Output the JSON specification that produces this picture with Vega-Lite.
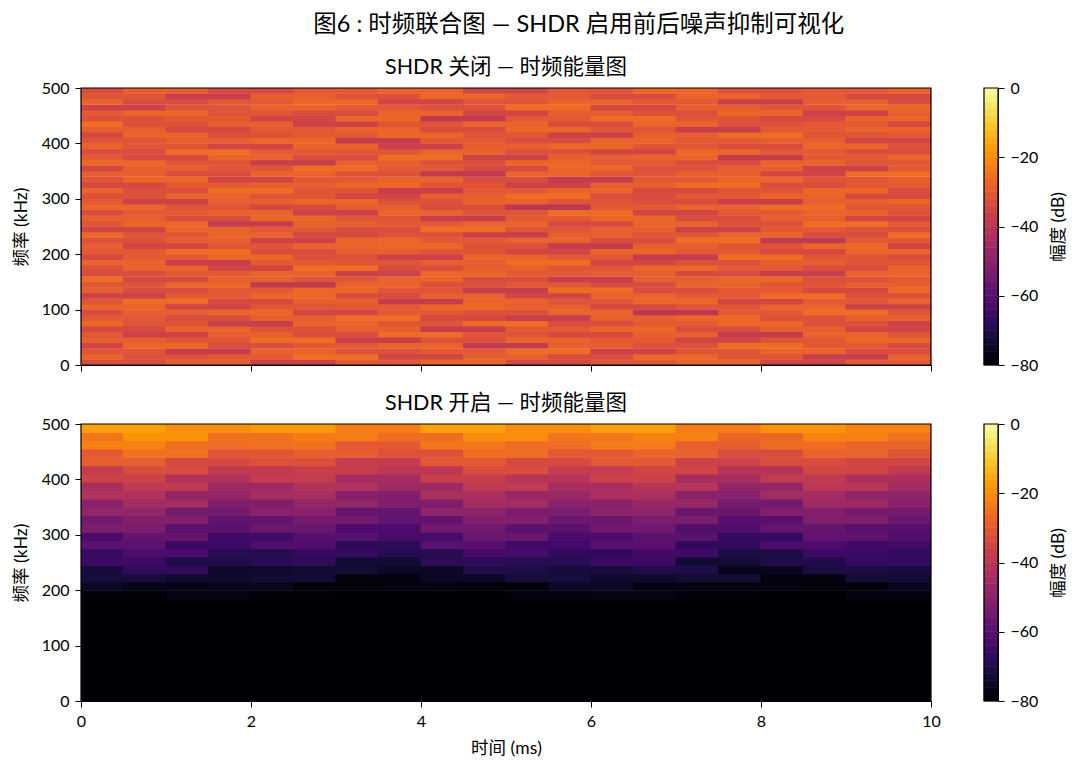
{"$schema":"https://vega.github.io/schema/vega-lite/v6.json","padding":{"left":12,"top":13,"right":0,"bottom":0},"background":"white","title":{"text":"图6 : 时频联合图 — SHDR 启用前后噪声抑制可视化","fontSize":23.5,"fontWeight":"normal","font":"Lato, Noto Sans CJK SC","color":"black","anchor":"middle","offset":20,"dx":39},"config":{"font":"Lato, Noto Sans CJK SC","view":{"stroke":null},"axis":{"labelFont":"Lato, Noto Sans CJK SC","titleFont":"Lato, Noto Sans CJK SC","labelFontSize":16,"titleFontSize":17.5,"titleFontWeight":"normal","labelColor":"black","titleColor":"black","tickColor":"black","domainColor":"black","grid":false,"tickSize":6,"labelPadding":6,"labelFlush":false,"format":"d"},"title":{"fontSize":21.5,"fontWeight":"normal","color":"black","font":"Lato, Noto Sans CJK SC","offset":2}},"datasets":{
"cb":[{"lo":-80,"hi":-78,"c":-79},{"lo":-78,"hi":-76,"c":-77},{"lo":-76,"hi":-74,"c":-75},{"lo":-74,"hi":-72,"c":-73},{"lo":-72,"hi":-70,"c":-71},{"lo":-70,"hi":-68,"c":-69},{"lo":-68,"hi":-66,"c":-67},{"lo":-66,"hi":-64,"c":-65},{"lo":-64,"hi":-62,"c":-63},{"lo":-62,"hi":-60,"c":-61},{"lo":-60,"hi":-58,"c":-59},{"lo":-58,"hi":-56,"c":-57},{"lo":-56,"hi":-54,"c":-55},{"lo":-54,"hi":-52,"c":-53},{"lo":-52,"hi":-50,"c":-51},{"lo":-50,"hi":-48,"c":-49},{"lo":-48,"hi":-46,"c":-47},{"lo":-46,"hi":-44,"c":-45},{"lo":-44,"hi":-42,"c":-43},{"lo":-42,"hi":-40,"c":-41},{"lo":-40,"hi":-38,"c":-39},{"lo":-38,"hi":-36,"c":-37},{"lo":-36,"hi":-34,"c":-35},{"lo":-34,"hi":-32,"c":-33},{"lo":-32,"hi":-30,"c":-31},{"lo":-30,"hi":-28,"c":-29},{"lo":-28,"hi":-26,"c":-27},{"lo":-26,"hi":-24,"c":-25},{"lo":-24,"hi":-22,"c":-23},{"lo":-22,"hi":-20,"c":-21},{"lo":-20,"hi":-18,"c":-19},{"lo":-18,"hi":-16,"c":-17},{"lo":-16,"hi":-14,"c":-15},{"lo":-14,"hi":-12,"c":-13},{"lo":-12,"hi":-10,"c":-11},{"lo":-10,"hi":-8,"c":-9},{"lo":-8,"hi":-6,"c":-7},{"lo":-6,"hi":-4,"c":-5},{"lo":-4,"hi":-2,"c":-3},{"lo":-2,"hi":0,"c":-1}],
"cbf":[{"lo":-80,"hi":0}],
"frame":[{"t":0,"t2":10,"f":0,"f2":500}],
"base":[{"t":0,"t2":10,"f":0,"f2":190,"v":-80}],
"off":[
{"t":0.5,"f":5,"v":-33},{"t":1.5,"f":5,"v":-29},{"t":2.5,"f":5,"v":-36},{"t":3.5,"f":5,"v":-30},{"t":4.5,"f":5,"v":-27},{"t":5.5,"f":5,"v":-34},{"t":6.5,"f":5,"v":-31},{"t":7.5,"f":5,"v":-28},{"t":8.5,"f":5,"v":-35},{"t":9.5,"f":5,"v":-30},
{"t":0,"f":15,"v":-28},{"t":1,"f":15,"v":-32},{"t":2,"f":15,"v":-30},{"t":3,"f":15,"v":-26},{"t":4,"f":15,"v":-35},{"t":5,"f":15,"v":-29},{"t":6,"f":15,"v":-33},{"t":7,"f":15,"v":-27},{"t":8,"f":15,"v":-31},{"t":9,"f":15,"v":-37},{"t":10,"f":15,"v":-29},
{"t":0.5,"f":25,"v":-31},{"t":1.5,"f":25,"v":-38},{"t":2.5,"f":25,"v":-28},{"t":3.5,"f":25,"v":-32},{"t":4.5,"f":25,"v":-30},{"t":5.5,"f":25,"v":-26},{"t":6.5,"f":25,"v":-36},{"t":7.5,"f":25,"v":-31},{"t":8.5,"f":25,"v":-28},{"t":9.5,"f":25,"v":-33},
{"t":0,"f":35,"v":-35},{"t":1,"f":35,"v":-27},{"t":2,"f":35,"v":-33},{"t":3,"f":35,"v":-30},{"t":4,"f":35,"v":-28},{"t":5,"f":35,"v":-39},{"t":6,"f":35,"v":-29},{"t":7,"f":35,"v":-32},{"t":8,"f":35,"v":-26},{"t":9,"f":35,"v":-30},{"t":10,"f":35,"v":-34},
{"t":0.5,"f":45,"v":-29},{"t":1.5,"f":45,"v":-31},{"t":2.5,"f":45,"v":-26},{"t":3.5,"f":45,"v":-37},{"t":4.5,"f":45,"v":-32},{"t":5.5,"f":45,"v":-28},{"t":6.5,"f":45,"v":-30},{"t":7.5,"f":45,"v":-35},{"t":8.5,"f":45,"v":-31},{"t":9.5,"f":45,"v":-27},
{"t":0,"f":55,"v":-30},{"t":1,"f":55,"v":-36},{"t":2,"f":55,"v":-29},{"t":3,"f":55,"v":-33},{"t":4,"f":55,"v":-26},{"t":5,"f":55,"v":-31},{"t":6,"f":55,"v":-34},{"t":7,"f":55,"v":-29},{"t":8,"f":55,"v":-38},{"t":9,"f":55,"v":-28},{"t":10,"f":55,"v":-31},
{"t":0.5,"f":65,"v":-34},{"t":1.5,"f":65,"v":-28},{"t":2.5,"f":65,"v":-32},{"t":3.5,"f":65,"v":-29},{"t":4.5,"f":65,"v":-38},{"t":5.5,"f":65,"v":-30},{"t":6.5,"f":65,"v":-27},{"t":7.5,"f":65,"v":-33},{"t":8.5,"f":65,"v":-29},{"t":9.5,"f":65,"v":-35},
{"t":0,"f":75,"v":-27},{"t":1,"f":75,"v":-31},{"t":2,"f":75,"v":-37},{"t":3,"f":75,"v":-28},{"t":4,"f":75,"v":-31},{"t":5,"f":75,"v":-26},{"t":6,"f":75,"v":-33},{"t":7,"f":75,"v":-30},{"t":8,"f":75,"v":-27},{"t":9,"f":75,"v":-32},{"t":10,"f":75,"v":-36},
{"t":0.5,"f":85,"v":-30},{"t":1.5,"f":85,"v":-33},{"t":2.5,"f":85,"v":-29},{"t":3.5,"f":85,"v":-26},{"t":4.5,"f":85,"v":-34},{"t":5.5,"f":85,"v":-37},{"t":6.5,"f":85,"v":-29},{"t":7.5,"f":85,"v":-27},{"t":8.5,"f":85,"v":-32},{"t":9.5,"f":85,"v":-29},
{"t":0,"f":95,"v":-33},{"t":1,"f":95,"v":-29},{"t":2,"f":95,"v":-27},{"t":3,"f":95,"v":-35},{"t":4,"f":95,"v":-30},{"t":5,"f":95,"v":-32},{"t":6,"f":95,"v":-28},{"t":7,"f":95,"v":-40},{"t":8,"f":95,"v":-30},{"t":9,"f":95,"v":-26},{"t":10,"f":95,"v":-31},
{"t":0.5,"f":105,"v":-28},{"t":1.5,"f":105,"v":-35},{"t":2.5,"f":105,"v":-31},{"t":3.5,"f":105,"v":-30},{"t":4.5,"f":105,"v":-27},{"t":5.5,"f":105,"v":-29},{"t":6.5,"f":105,"v":-34},{"t":7.5,"f":105,"v":-31},{"t":8.5,"f":105,"v":-28},{"t":9.5,"f":105,"v":-36},
{"t":0,"f":115,"v":-31},{"t":1,"f":115,"v":-26},{"t":2,"f":115,"v":-34},{"t":3,"f":115,"v":-29},{"t":4,"f":115,"v":-38},{"t":5,"f":115,"v":-28},{"t":6,"f":115,"v":-31},{"t":7,"f":115,"v":-27},{"t":8,"f":115,"v":-35},{"t":9,"f":115,"v":-30},{"t":10,"f":115,"v":-28},
{"t":0.5,"f":125,"v":-36},{"t":1.5,"f":125,"v":-30},{"t":2.5,"f":125,"v":-27},{"t":3.5,"f":125,"v":-33},{"t":4.5,"f":125,"v":-29},{"t":5.5,"f":125,"v":-35},{"t":6.5,"f":125,"v":-28},{"t":7.5,"f":125,"v":-30},{"t":8.5,"f":125,"v":-26},{"t":9.5,"f":125,"v":-32},
{"t":0,"f":135,"v":-29},{"t":1,"f":135,"v":-33},{"t":2,"f":135,"v":-30},{"t":3,"f":135,"v":-27},{"t":4,"f":135,"v":-31},{"t":5,"f":135,"v":-37},{"t":6,"f":135,"v":-26},{"t":7,"f":135,"v":-33},{"t":8,"f":135,"v":-30},{"t":9,"f":135,"v":-34},{"t":10,"f":135,"v":-27},
{"t":0.5,"f":145,"v":-31},{"t":1.5,"f":145,"v":-27},{"t":2.5,"f":145,"v":-39},{"t":3.5,"f":145,"v":-28},{"t":4.5,"f":145,"v":-32},{"t":5.5,"f":145,"v":-30},{"t":6.5,"f":145,"v":-33},{"t":7.5,"f":145,"v":-28},{"t":8.5,"f":145,"v":-31},{"t":9.5,"f":145,"v":-29},
{"t":0,"f":155,"v":-26},{"t":1,"f":155,"v":-34},{"t":2,"f":155,"v":-29},{"t":3,"f":155,"v":-31},{"t":4,"f":155,"v":-28},{"t":5,"f":155,"v":-33},{"t":6,"f":155,"v":-37},{"t":7,"f":155,"v":-29},{"t":8,"f":155,"v":-27},{"t":9,"f":155,"v":-32},{"t":10,"f":155,"v":-30},
{"t":0.5,"f":165,"v":-33},{"t":1.5,"f":165,"v":-30},{"t":2.5,"f":165,"v":-28},{"t":3.5,"f":165,"v":-36},{"t":4.5,"f":165,"v":-27},{"t":5.5,"f":165,"v":-30},{"t":6.5,"f":165,"v":-29},{"t":7.5,"f":165,"v":-34},{"t":8.5,"f":165,"v":-37},{"t":9.5,"f":165,"v":-28},
{"t":0,"f":175,"v":-32},{"t":1,"f":175,"v":-28},{"t":2,"f":175,"v":-35},{"t":3,"f":175,"v":-26},{"t":4,"f":175,"v":-33},{"t":5,"f":175,"v":-29},{"t":6,"f":175,"v":-31},{"t":7,"f":175,"v":-27},{"t":8,"f":175,"v":-30},{"t":9,"f":175,"v":-33},{"t":10,"f":175,"v":-28},
{"t":0.5,"f":185,"v":-28},{"t":1.5,"f":185,"v":-37},{"t":2.5,"f":185,"v":-30},{"t":3.5,"f":185,"v":-31},{"t":4.5,"f":185,"v":-29},{"t":5.5,"f":185,"v":-26},{"t":6.5,"f":185,"v":-35},{"t":7.5,"f":185,"v":-32},{"t":8.5,"f":185,"v":-29},{"t":9.5,"f":185,"v":-31},
{"t":0,"f":195,"v":-34},{"t":1,"f":195,"v":-30},{"t":2,"f":195,"v":-27},{"t":3,"f":195,"v":-32},{"t":4,"f":195,"v":-36},{"t":5,"f":195,"v":-28},{"t":6,"f":195,"v":-30},{"t":7,"f":195,"v":-38},{"t":8,"f":195,"v":-26},{"t":9,"f":195,"v":-31},{"t":10,"f":195,"v":-33},
{"t":0.5,"f":205,"v":-30},{"t":1.5,"f":205,"v":-26},{"t":2.5,"f":205,"v":-33},{"t":3.5,"f":205,"v":-29},{"t":4.5,"f":205,"v":-31},{"t":5.5,"f":205,"v":-35},{"t":6.5,"f":205,"v":-27},{"t":7.5,"f":205,"v":-30},{"t":8.5,"f":205,"v":-34},{"t":9.5,"f":205,"v":-28},
{"t":0,"f":215,"v":-29},{"t":1,"f":215,"v":-35},{"t":2,"f":215,"v":-31},{"t":3,"f":215,"v":-28},{"t":4,"f":215,"v":-27},{"t":5,"f":215,"v":-32},{"t":6,"f":215,"v":-38},{"t":7,"f":215,"v":-29},{"t":8,"f":215,"v":-31},{"t":9,"f":215,"v":-27},{"t":10,"f":215,"v":-35},
{"t":0.5,"f":225,"v":-32},{"t":1.5,"f":225,"v":-29},{"t":2.5,"f":225,"v":-36},{"t":3.5,"f":225,"v":-27},{"t":4.5,"f":225,"v":-30},{"t":5.5,"f":225,"v":-28},{"t":6.5,"f":225,"v":-33},{"t":7.5,"f":225,"v":-26},{"t":8.5,"f":225,"v":-39},{"t":9.5,"f":225,"v":-30},
{"t":0,"f":235,"v":-27},{"t":1,"f":235,"v":-31},{"t":2,"f":235,"v":-28},{"t":3,"f":235,"v":-34},{"t":4,"f":235,"v":-32},{"t":5,"f":235,"v":-37},{"t":6,"f":235,"v":-29},{"t":7,"f":235,"v":-31},{"t":8,"f":235,"v":-28},{"t":9,"f":235,"v":-33},{"t":10,"f":235,"v":-26},
{"t":0.5,"f":245,"v":-35},{"t":1.5,"f":245,"v":-28},{"t":2.5,"f":245,"v":-30},{"t":3.5,"f":245,"v":-33},{"t":4.5,"f":245,"v":-26},{"t":5.5,"f":245,"v":-31},{"t":6.5,"f":245,"v":-29},{"t":7.5,"f":245,"v":-36},{"t":8.5,"f":245,"v":-30},{"t":9.5,"f":245,"v":-32},
{"t":0,"f":255,"v":-31},{"t":1,"f":255,"v":-27},{"t":2,"f":255,"v":-38},{"t":3,"f":255,"v":-29},{"t":4,"f":255,"v":-30},{"t":5,"f":255,"v":-28},{"t":6,"f":255,"v":-34},{"t":7,"f":255,"v":-28},{"t":8,"f":255,"v":-32},{"t":9,"f":255,"v":-26},{"t":10,"f":255,"v":-30},
{"t":0.5,"f":265,"v":-29},{"t":1.5,"f":265,"v":-33},{"t":2.5,"f":265,"v":-27},{"t":3.5,"f":265,"v":-31},{"t":4.5,"f":265,"v":-37},{"t":5.5,"f":265,"v":-30},{"t":6.5,"f":265,"v":-27},{"t":7.5,"f":265,"v":-33},{"t":8.5,"f":265,"v":-29},{"t":9.5,"f":265,"v":-35},
{"t":0,"f":275,"v":-33},{"t":1,"f":275,"v":-30},{"t":2,"f":275,"v":-28},{"t":3,"f":275,"v":-36},{"t":4,"f":275,"v":-28},{"t":5,"f":275,"v":-31},{"t":6,"f":275,"v":-26},{"t":7,"f":275,"v":-35},{"t":8,"f":275,"v":-30},{"t":9,"f":275,"v":-28},{"t":10,"f":275,"v":-32},
{"t":0.5,"f":285,"v":-27},{"t":1.5,"f":285,"v":-31},{"t":2.5,"f":285,"v":-34},{"t":3.5,"f":285,"v":-29},{"t":4.5,"f":285,"v":-33},{"t":5.5,"f":285,"v":-40},{"t":6.5,"f":285,"v":-30},{"t":7.5,"f":285,"v":-28},{"t":8.5,"f":285,"v":-26},{"t":9.5,"f":285,"v":-31},
{"t":0,"f":295,"v":-30},{"t":1,"f":295,"v":-36},{"t":2,"f":295,"v":-29},{"t":3,"f":295,"v":-27},{"t":4,"f":295,"v":-32},{"t":5,"f":295,"v":-28},{"t":6,"f":295,"v":-31},{"t":7,"f":295,"v":-33},{"t":8,"f":295,"v":-37},{"t":9,"f":295,"v":-29},{"t":10,"f":295,"v":-27},
{"t":0.5,"f":305,"v":-32},{"t":1.5,"f":305,"v":-28},{"t":2.5,"f":305,"v":-31},{"t":3.5,"f":305,"v":-35},{"t":4.5,"f":305,"v":-29},{"t":5.5,"f":305,"v":-26},{"t":6.5,"f":305,"v":-33},{"t":7.5,"f":305,"v":-30},{"t":8.5,"f":305,"v":-28},{"t":9.5,"f":305,"v":-34},
{"t":0,"f":315,"v":-28},{"t":1,"f":315,"v":-32},{"t":2,"f":315,"v":-26},{"t":3,"f":315,"v":-31},{"t":4,"f":315,"v":-37},{"t":5,"f":315,"v":-30},{"t":6,"f":315,"v":-28},{"t":7,"f":315,"v":-34},{"t":8,"f":315,"v":-31},{"t":9,"f":315,"v":-27},{"t":10,"f":315,"v":-33},
{"t":0.5,"f":325,"v":-34},{"t":1.5,"f":325,"v":-30},{"t":2.5,"f":325,"v":-29},{"t":3.5,"f":325,"v":-27},{"t":4.5,"f":325,"v":-31},{"t":5.5,"f":325,"v":-36},{"t":6.5,"f":325,"v":-29},{"t":7.5,"f":325,"v":-26},{"t":8.5,"f":325,"v":-33},{"t":9.5,"f":325,"v":-30},
{"t":0,"f":335,"v":-31},{"t":1,"f":335,"v":-27},{"t":2,"f":335,"v":-35},{"t":3,"f":335,"v":-30},{"t":4,"f":335,"v":-28},{"t":5,"f":335,"v":-33},{"t":6,"f":335,"v":-38},{"t":7,"f":335,"v":-30},{"t":8,"f":335,"v":-27},{"t":9,"f":335,"v":-31},{"t":10,"f":335,"v":-29},
{"t":0.5,"f":345,"v":-29},{"t":1.5,"f":345,"v":-33},{"t":2.5,"f":345,"v":-28},{"t":3.5,"f":345,"v":-32},{"t":4.5,"f":345,"v":-39},{"t":5.5,"f":345,"v":-28},{"t":6.5,"f":345,"v":-31},{"t":7.5,"f":345,"v":-29},{"t":8.5,"f":345,"v":-35},{"t":9.5,"f":345,"v":-26},
{"t":0,"f":355,"v":-35},{"t":1,"f":355,"v":-29},{"t":2,"f":355,"v":-31},{"t":3,"f":355,"v":-26},{"t":4,"f":355,"v":-30},{"t":5,"f":355,"v":-34},{"t":6,"f":355,"v":-27},{"t":7,"f":355,"v":-32},{"t":8,"f":355,"v":-29},{"t":9,"f":355,"v":-36},{"t":10,"f":355,"v":-30},
{"t":0.5,"f":365,"v":-27},{"t":1.5,"f":365,"v":-31},{"t":2.5,"f":365,"v":-37},{"t":3.5,"f":365,"v":-29},{"t":4.5,"f":365,"v":-32},{"t":5.5,"f":365,"v":-27},{"t":6.5,"f":365,"v":-30},{"t":7.5,"f":365,"v":-33},{"t":8.5,"f":365,"v":-28},{"t":9.5,"f":365,"v":-31},
{"t":0,"f":375,"v":-30},{"t":1,"f":375,"v":-34},{"t":2,"f":375,"v":-28},{"t":3,"f":375,"v":-33},{"t":4,"f":375,"v":-26},{"t":5,"f":375,"v":-36},{"t":6,"f":375,"v":-29},{"t":7,"f":375,"v":-28},{"t":8,"f":375,"v":-38},{"t":9,"f":375,"v":-30},{"t":10,"f":375,"v":-27},
{"t":0.5,"f":385,"v":-33},{"t":1.5,"f":385,"v":-26},{"t":2.5,"f":385,"v":-30},{"t":3.5,"f":385,"v":-31},{"t":4.5,"f":385,"v":-28},{"t":5.5,"f":385,"v":-32},{"t":6.5,"f":385,"v":-35},{"t":7.5,"f":385,"v":-27},{"t":8.5,"f":385,"v":-30},{"t":9.5,"f":385,"v":-33},
{"t":0,"f":395,"v":-28},{"t":1,"f":395,"v":-31},{"t":2,"f":395,"v":-35},{"t":3,"f":395,"v":-28},{"t":4,"f":395,"v":-36},{"t":5,"f":395,"v":-29},{"t":6,"f":395,"v":-27},{"t":7,"f":395,"v":-31},{"t":8,"f":395,"v":-33},{"t":9,"f":395,"v":-27},{"t":10,"f":395,"v":-32},
{"t":0.5,"f":405,"v":-31},{"t":1.5,"f":405,"v":-29},{"t":2.5,"f":405,"v":-27},{"t":3.5,"f":405,"v":-38},{"t":4.5,"f":405,"v":-30},{"t":5.5,"f":405,"v":-33},{"t":6.5,"f":405,"v":-28},{"t":7.5,"f":405,"v":-30},{"t":8.5,"f":405,"v":-29},{"t":9.5,"f":405,"v":-35},
{"t":0,"f":415,"v":-34},{"t":1,"f":415,"v":-28},{"t":2,"f":415,"v":-32},{"t":3,"f":415,"v":-30},{"t":4,"f":415,"v":-27},{"t":5,"f":415,"v":-31},{"t":6,"f":415,"v":-36},{"t":7,"f":415,"v":-29},{"t":8,"f":415,"v":-26},{"t":9,"f":415,"v":-31},{"t":10,"f":415,"v":-30},
{"t":0.5,"f":425,"v":-29},{"t":1.5,"f":425,"v":-34},{"t":2.5,"f":425,"v":-30},{"t":3.5,"f":425,"v":-28},{"t":4.5,"f":425,"v":-33},{"t":5.5,"f":425,"v":-27},{"t":6.5,"f":425,"v":-31},{"t":7.5,"f":425,"v":-37},{"t":8.5,"f":425,"v":-30},{"t":9.5,"f":425,"v":-28},
{"t":0,"f":435,"v":-26},{"t":1,"f":435,"v":-32},{"t":2,"f":435,"v":-29},{"t":3,"f":435,"v":-36},{"t":4,"f":435,"v":-31},{"t":5,"f":435,"v":-28},{"t":6,"f":435,"v":-33},{"t":7,"f":435,"v":-28},{"t":8,"f":435,"v":-32},{"t":9,"f":435,"v":-30},{"t":10,"f":435,"v":-34},
{"t":0.5,"f":445,"v":-32},{"t":1.5,"f":445,"v":-30},{"t":2.5,"f":445,"v":-35},{"t":3.5,"f":445,"v":-27},{"t":4.5,"f":445,"v":-39},{"t":5.5,"f":445,"v":-30},{"t":6.5,"f":445,"v":-26},{"t":7.5,"f":445,"v":-31},{"t":8.5,"f":445,"v":-34},{"t":9.5,"f":445,"v":-28},
{"t":0,"f":455,"v":-30},{"t":1,"f":455,"v":-27},{"t":2,"f":455,"v":-31},{"t":3,"f":455,"v":-33},{"t":4,"f":455,"v":-28},{"t":5,"f":455,"v":-35},{"t":6,"f":455,"v":-29},{"t":7,"f":455,"v":-32},{"t":8,"f":455,"v":-27},{"t":9,"f":455,"v":-36},{"t":10,"f":455,"v":-29},
{"t":0.5,"f":465,"v":-36},{"t":1.5,"f":465,"v":-31},{"t":2.5,"f":465,"v":-28},{"t":3.5,"f":465,"v":-30},{"t":4.5,"f":465,"v":-32},{"t":5.5,"f":465,"v":-26},{"t":6.5,"f":465,"v":-34},{"t":7.5,"f":465,"v":-29},{"t":8.5,"f":465,"v":-31},{"t":9.5,"f":465,"v":-27},
{"t":0,"f":475,"v":-28},{"t":1,"f":475,"v":-33},{"t":2,"f":475,"v":-30},{"t":3,"f":475,"v":-27},{"t":4,"f":475,"v":-35},{"t":5,"f":475,"v":-31},{"t":6,"f":475,"v":-28},{"t":7,"f":475,"v":-30},{"t":8,"f":475,"v":-37},{"t":9,"f":475,"v":-29},{"t":10,"f":475,"v":-33},
{"t":0.5,"f":485,"v":-31},{"t":1.5,"f":485,"v":-37},{"t":2.5,"f":485,"v":-29},{"t":3.5,"f":485,"v":-32},{"t":4.5,"f":485,"v":-27},{"t":5.5,"f":485,"v":-30},{"t":6.5,"f":485,"v":-33},{"t":7.5,"f":485,"v":-28},{"t":8.5,"f":485,"v":-30},{"t":9.5,"f":485,"v":-34},
{"t":0,"f":495,"v":-33},{"t":1,"f":495,"v":-29},{"t":2,"f":495,"v":-34},{"t":3,"f":495,"v":-30},{"t":4,"f":495,"v":-28},{"t":5,"f":495,"v":-35},{"t":6,"f":495,"v":-31},{"t":7,"f":495,"v":-27},{"t":8,"f":495,"v":-32},{"t":9,"f":495,"v":-30},{"t":10,"f":495,"v":-28}],
"on":[
{"t":0.5,"f":192,"v":-79},{"t":1.5,"f":192,"v":-77},{"t":2.5,"f":192,"v":-79},{"t":3.5,"f":192,"v":-80},{"t":4.5,"f":192,"v":-80},{"t":5.5,"f":192,"v":-78},{"t":6.5,"f":192,"v":-77},{"t":7.5,"f":192,"v":-79},{"t":8.5,"f":192,"v":-80},{"t":9.5,"f":192,"v":-78},
{"t":0,"f":207,"v":-75},{"t":1,"f":207,"v":-77},{"t":2,"f":207,"v":-76},{"t":3,"f":207,"v":-79},{"t":4,"f":207,"v":-78},{"t":5,"f":207,"v":-79},{"t":6,"f":207,"v":-75},{"t":7,"f":207,"v":-78},{"t":8,"f":207,"v":-78},{"t":9,"f":207,"v":-79},{"t":10,"f":207,"v":-76},
{"t":0.5,"f":222,"v":-72},{"t":1.5,"f":222,"v":-74},{"t":2.5,"f":222,"v":-73},{"t":3.5,"f":222,"v":-78},{"t":4.5,"f":222,"v":-75},{"t":5.5,"f":222,"v":-72},{"t":6.5,"f":222,"v":-74},{"t":7.5,"f":222,"v":-73},{"t":8.5,"f":222,"v":-78},{"t":9.5,"f":222,"v":-73},
{"t":0,"f":237,"v":-72},{"t":1,"f":237,"v":-67},{"t":2,"f":237,"v":-74},{"t":3,"f":237,"v":-73},{"t":4,"f":237,"v":-75},{"t":5,"f":237,"v":-70},{"t":6,"f":237,"v":-72},{"t":7,"f":237,"v":-70},{"t":8,"f":237,"v":-76},{"t":9,"f":237,"v":-71},{"t":10,"f":237,"v":-72},
{"t":0.5,"f":252,"v":-65},{"t":1.5,"f":252,"v":-70},{"t":2.5,"f":252,"v":-68},{"t":3.5,"f":252,"v":-73},{"t":4.5,"f":252,"v":-68},{"t":5.5,"f":252,"v":-69},{"t":6.5,"f":252,"v":-65},{"t":7.5,"f":252,"v":-73},{"t":8.5,"f":252,"v":-70},{"t":9.5,"f":252,"v":-66},
{"t":0,"f":267,"v":-66},{"t":1,"f":267,"v":-62},{"t":2,"f":267,"v":-69},{"t":3,"f":267,"v":-66},{"t":4,"f":267,"v":-69},{"t":5,"f":267,"v":-63},{"t":6,"f":267,"v":-67},{"t":7,"f":267,"v":-64},{"t":8,"f":267,"v":-71},{"t":9,"f":267,"v":-65},{"t":10,"f":267,"v":-67},
{"t":0.5,"f":282,"v":-59},{"t":1.5,"f":282,"v":-65},{"t":2.5,"f":282,"v":-61},{"t":3.5,"f":282,"v":-68},{"t":4.5,"f":282,"v":-60},{"t":5.5,"f":282,"v":-64},{"t":6.5,"f":282,"v":-60},{"t":7.5,"f":282,"v":-67},{"t":8.5,"f":282,"v":-62},{"t":9.5,"f":282,"v":-64},
{"t":0,"f":297,"v":-62},{"t":1,"f":297,"v":-57},{"t":2,"f":297,"v":-64},{"t":3,"f":297,"v":-60},{"t":4,"f":297,"v":-63},{"t":5,"f":297,"v":-56},{"t":6,"f":297,"v":-62},{"t":7,"f":297,"v":-59},{"t":8,"f":297,"v":-66},{"t":9,"f":297,"v":-58},{"t":10,"f":297,"v":-61},
{"t":0.5,"f":312,"v":-53},{"t":1.5,"f":312,"v":-59},{"t":2.5,"f":312,"v":-56},{"t":3.5,"f":312,"v":-62},{"t":4.5,"f":312,"v":-55},{"t":5.5,"f":312,"v":-59},{"t":6.5,"f":312,"v":-55},{"t":7.5,"f":312,"v":-61},{"t":8.5,"f":312,"v":-57},{"t":9.5,"f":312,"v":-60},
{"t":0,"f":327,"v":-55},{"t":1,"f":327,"v":-51},{"t":2,"f":327,"v":-58},{"t":3,"f":327,"v":-54},{"t":4,"f":327,"v":-58},{"t":5,"f":327,"v":-51},{"t":6,"f":327,"v":-56},{"t":7,"f":327,"v":-53},{"t":8,"f":327,"v":-60},{"t":9,"f":327,"v":-52},{"t":10,"f":327,"v":-56},
{"t":0.5,"f":342,"v":-48},{"t":1.5,"f":342,"v":-54},{"t":2.5,"f":342,"v":-50},{"t":3.5,"f":342,"v":-57},{"t":4.5,"f":342,"v":-49},{"t":5.5,"f":342,"v":-53},{"t":6.5,"f":342,"v":-49},{"t":7.5,"f":342,"v":-56},{"t":8.5,"f":342,"v":-51},{"t":9.5,"f":342,"v":-54},
{"t":0,"f":357,"v":-50},{"t":1,"f":357,"v":-45},{"t":2,"f":357,"v":-52},{"t":3,"f":357,"v":-48},{"t":4,"f":357,"v":-52},{"t":5,"f":357,"v":-45},{"t":6,"f":357,"v":-50},{"t":7,"f":357,"v":-47},{"t":8,"f":357,"v":-54},{"t":9,"f":357,"v":-46},{"t":10,"f":357,"v":-50},
{"t":0.5,"f":372,"v":-42},{"t":1.5,"f":372,"v":-48},{"t":2.5,"f":372,"v":-44},{"t":3.5,"f":372,"v":-51},{"t":4.5,"f":372,"v":-43},{"t":5.5,"f":372,"v":-47},{"t":6.5,"f":372,"v":-43},{"t":7.5,"f":372,"v":-50},{"t":8.5,"f":372,"v":-45},{"t":9.5,"f":372,"v":-49},
{"t":0,"f":387,"v":-44},{"t":1,"f":387,"v":-39},{"t":2,"f":387,"v":-46},{"t":3,"f":387,"v":-42},{"t":4,"f":387,"v":-46},{"t":5,"f":387,"v":-39},{"t":6,"f":387,"v":-44},{"t":7,"f":387,"v":-41},{"t":8,"f":387,"v":-48},{"t":9,"f":387,"v":-40},{"t":10,"f":387,"v":-45},
{"t":0.5,"f":402,"v":-36},{"t":1.5,"f":402,"v":-42},{"t":2.5,"f":402,"v":-38},{"t":3.5,"f":402,"v":-45},{"t":4.5,"f":402,"v":-37},{"t":5.5,"f":402,"v":-41},{"t":6.5,"f":402,"v":-36},{"t":7.5,"f":402,"v":-44},{"t":8.5,"f":402,"v":-39},{"t":9.5,"f":402,"v":-43},
{"t":0,"f":417,"v":-38},{"t":1,"f":417,"v":-33},{"t":2,"f":417,"v":-39},{"t":3,"f":417,"v":-37},{"t":4,"f":417,"v":-40},{"t":5,"f":417,"v":-33},{"t":6,"f":417,"v":-38},{"t":7,"f":417,"v":-35},{"t":8,"f":417,"v":-41},{"t":9,"f":417,"v":-35},{"t":10,"f":417,"v":-39},
{"t":0.5,"f":432,"v":-29},{"t":1.5,"f":432,"v":-34},{"t":2.5,"f":432,"v":-32},{"t":3.5,"f":432,"v":-38},{"t":4.5,"f":432,"v":-30},{"t":5.5,"f":432,"v":-34},{"t":6.5,"f":432,"v":-30},{"t":7.5,"f":432,"v":-36},{"t":8.5,"f":432,"v":-33},{"t":9.5,"f":432,"v":-35},
{"t":0,"f":447,"v":-30},{"t":1,"f":447,"v":-25},{"t":2,"f":447,"v":-31},{"t":3,"f":447,"v":-29},{"t":4,"f":447,"v":-32},{"t":5,"f":447,"v":-26},{"t":6,"f":447,"v":-30},{"t":7,"f":447,"v":-28},{"t":8,"f":447,"v":-33},{"t":9,"f":447,"v":-28},{"t":10,"f":447,"v":-31},
{"t":0.5,"f":462,"v":-22},{"t":1.5,"f":462,"v":-26},{"t":2.5,"f":462,"v":-25},{"t":3.5,"f":462,"v":-30},{"t":4.5,"f":462,"v":-24},{"t":5.5,"f":462,"v":-26},{"t":6.5,"f":462,"v":-23},{"t":7.5,"f":462,"v":-29},{"t":8.5,"f":462,"v":-26},{"t":9.5,"f":462,"v":-28},
{"t":0,"f":477,"v":-24},{"t":1,"f":477,"v":-19},{"t":2,"f":477,"v":-25},{"t":3,"f":477,"v":-23},{"t":4,"f":477,"v":-26},{"t":5,"f":477,"v":-20},{"t":6,"f":477,"v":-24},{"t":7,"f":477,"v":-22},{"t":8,"f":477,"v":-27},{"t":9,"f":477,"v":-22},{"t":10,"f":477,"v":-25},
{"t":0.5,"f":492,"v":-17},{"t":1.5,"f":492,"v":-20},{"t":2.5,"f":492,"v":-18},{"t":3.5,"f":492,"v":-23},{"t":4.5,"f":492,"v":-17},{"t":5.5,"f":492,"v":-20},{"t":6.5,"f":492,"v":-17},{"t":7.5,"f":492,"v":-23},{"t":8.5,"f":492,"v":-19},{"t":9.5,"f":492,"v":-22}]
},"spacing":19,"vconcat":[{"spacing":51,"hconcat":[{"width":850,"height":277,"title":"SHDR 关闭 — 时频能量图","layer":[{"data":{"name":"off"},"mark":{"type":"rect","width":86,"height":6,"clip":true},"encoding":{"x":{"field":"t","type":"quantitative","scale":{"domain":[0,10],"nice":false},"axis":{"values":[0,2,4,6,8,10],"labels":false,"title":null}},"y":{"field":"f","type":"quantitative","scale":{"domain":[0,500],"nice":false},"axis":{"values":[0,100,200,300,400,500],"title":"频率 (kHz)","titlePadding":11}},"color":{"field":"v","type":"quantitative","scale":{"scheme":"inferno","domain":[-80,0]},"legend":null}}},{"data":{"name":"frame"},"mark":{"type":"rect","fill":"transparent","stroke":"black","strokeWidth":1.2},"encoding":{"x":{"field":"t","type":"quantitative"},"x2":{"field":"t2"},"y":{"field":"f","type":"quantitative"},"y2":{"field":"f2"}}}]},{"width":14,"height":277,"layer":[{"data":{"name":"cb"},"mark":{"type":"rect","strokeWidth":0.6},"encoding":{"y":{"field":"lo","type":"quantitative","scale":{"domain":[-80,0],"nice":false},"axis":{"orient":"right","values":[-80,-60,-40,-20,0],"title":"幅度 (dB)","titleAngle":270,"titlePadding":30}},"y2":{"field":"hi"},"color":{"field":"c","type":"quantitative","scale":{"scheme":"inferno","domain":[-80,0]},"legend":null},"stroke":{"field":"c","type":"quantitative","scale":{"scheme":"inferno","domain":[-80,0]},"legend":null}}},{"data":{"name":"cbf"},"mark":{"type":"rect","fill":"transparent","stroke":"black","strokeWidth":1.2},"encoding":{"y":{"field":"lo","type":"quantitative"},"y2":{"field":"hi"}}}]}]},{"spacing":42,"hconcat":[{"width":850,"height":277,"title":"SHDR 开启 — 时频能量图","layer":[{"data":{"name":"base"},"mark":{"type":"rect"},"encoding":{"x":{"field":"t","type":"quantitative","scale":{"domain":[0,10],"nice":false},"axis":{"values":[0,2,4,6,8,10],"title":"时间 (ms)","titlePadding":10}},"x2":{"field":"t2"},"y":{"field":"f","type":"quantitative","scale":{"domain":[0,500],"nice":false},"axis":{"values":[0,100,200,300,400,500],"title":"频率 (kHz)","titlePadding":11}},"y2":{"field":"f2"},"color":{"field":"v","type":"quantitative","scale":{"scheme":"inferno","domain":[-80,0]},"legend":null}}},{"data":{"name":"on"},"mark":{"type":"rect","width":86,"height":9,"clip":true},"encoding":{"x":{"field":"t","type":"quantitative"},"y":{"field":"f","type":"quantitative"},"color":{"field":"v","type":"quantitative"}}},{"data":{"name":"frame"},"mark":{"type":"rect","fill":"transparent","stroke":"black","strokeWidth":1.2},"encoding":{"x":{"field":"t","type":"quantitative"},"x2":{"field":"t2"},"y":{"field":"f","type":"quantitative"},"y2":{"field":"f2"}}}]},{"width":14,"height":277,"layer":[{"data":{"name":"cb"},"mark":{"type":"rect","strokeWidth":0.6},"encoding":{"y":{"field":"lo","type":"quantitative","scale":{"domain":[-80,0],"nice":false},"axis":{"orient":"right","values":[-80,-60,-40,-20,0],"title":"幅度 (dB)","titleAngle":270,"titlePadding":30}},"y2":{"field":"hi"},"color":{"field":"c","type":"quantitative","scale":{"scheme":"inferno","domain":[-80,0]},"legend":null},"stroke":{"field":"c","type":"quantitative","scale":{"scheme":"inferno","domain":[-80,0]},"legend":null}}},{"data":{"name":"cbf"},"mark":{"type":"rect","fill":"transparent","stroke":"black","strokeWidth":1.2},"encoding":{"y":{"field":"lo","type":"quantitative"},"y2":{"field":"hi"}}}]}]}]}
